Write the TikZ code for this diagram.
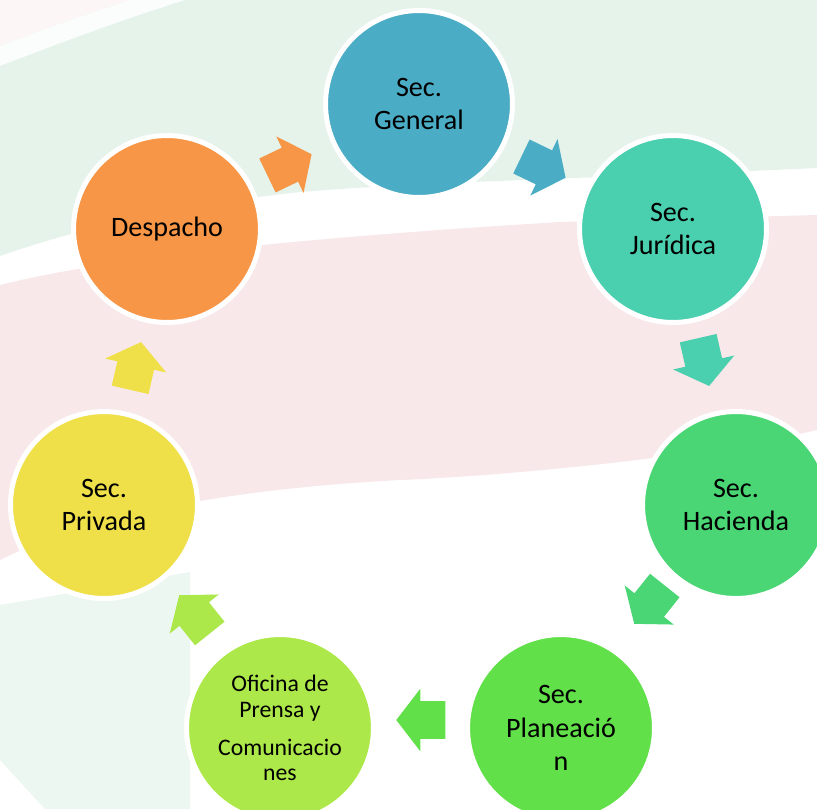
\documentclass[tikz,border=0pt]{standalone}
\usepackage{fontspec}
\setmainfont{Carlito}
\usetikzlibrary{shapes.arrows}
\definecolor{cgen}{HTML}{4BACC6}
\definecolor{cjur}{HTML}{4ACFAF}
\definecolor{chac}{HTML}{4AD674}
\definecolor{cpla}{HTML}{62E04A}
\definecolor{cofi}{HTML}{ADE84A}
\definecolor{cpri}{HTML}{EFE04A}
\definecolor{cdes}{HTML}{F79646}
\definecolor{bggreen}{HTML}{E5F3EB}
\definecolor{bgpink}{HTML}{F9E8E9}
\tikzset{
  unitnode/.style={circle,draw=white,line width=1mm,minimum size=3.74cm,inner sep=0pt,
    align=center,text=black,font=\fontsize{16}{19}\selectfont},
  smallunit/.style={unitnode,font=\fontsize{13.5}{14.7}\selectfont},
  cyclearr/.style={single arrow,minimum height=9.8mm,inner xsep=0pt,inner ysep=3.7mm,outer sep=0pt,
    single arrow head extend=2.5mm,single arrow tip angle=105},
}
\begin{document}
\begin{tikzpicture}[x=0.02cm,y=-0.02cm]
  \useasboundingbox (0,0) rectangle (817,809);
  \clip (0,0) rectangle (817,809);
  % ---- faded background bands ----
  \fill[white] (0,0) rectangle (817,809);
  \fill[bggreen] (0,0) -- (817,0) -- (817,168) .. controls (600,178) and (420,182) .. (300,192)
    .. controls (180,205) and (80,228) .. (0,256) -- cycle;
  \fill[white!60!bgpink] (0,0) -- (130,0) .. controls (85,15) and (40,30) .. (0,46) -- cycle;
  \fill[white!80!bggreen] (130,0) -- (185,0) .. controls (115,22) and (55,45) .. (0,66) -- (0,46)
    .. controls (40,30) and (85,15) .. (130,0) -- cycle;
  \fill[bgpink] (0,285) .. controls (120,255) and (330,236) .. (560,222) -- (817,215) -- (817,430)
    .. controls (700,458) and (500,476) .. (400,480) .. controls (250,488) and (100,510) .. (0,560) -- cycle;
  \fill[bggreen!70!white] (0,605) -- (190,572) -- (190,809) -- (45,809) -- (0,760) -- cycle;
  % ---- the seven offices round the cycle ----
  \node[unitnode,fill=cgen] (secgen) at (419,104) {Sec.\\General};
  \node[unitnode,fill=cjur] (secjur) at (673,229) {Sec.\\Jurídica};
  \node[unitnode,fill=chac] (sechac) at (736,505) {Sec.\\Hacienda};
  \node[unitnode,fill=cpla] (secpla) at (561,728) {Sec.\\Planeació\\n};
  \node[smallunit,fill=cofi] (ofipre) at (280,728) {Oficina de\\Prensa y\\[2.4mm]Comunicacio\\nes};
  \node[unitnode,fill=cpri] (secpri) at (104,505) {Sec.\\Privada};
  \node[unitnode,fill=cdes] (despa) at (167,229) {Despacho};
  % ---- block arrows, each in the colour of the office it leaves ----
  \node[cyclearr,fill=cgen,rotate=-25.7] (a1) at (537,164) {};
  \node[cyclearr,fill=cjur,rotate=-77.1] (a2) at (702,355) {};
  \node[cyclearr,fill=chac,rotate=-128.6] (a3) at (654,599) {};
  \node[cyclearr,fill=cpla,rotate=180] (a4) at (428,720) {};
  \node[cyclearr,fill=cofi,rotate=128.6] (a5) at (199,620) {};
  \node[cyclearr,fill=cpri,rotate=77.1] (a6) at (134,373) {};
  \node[cyclearr,fill=cdes,rotate=25.7] (a7) at (283,168) {};
\end{tikzpicture}
\end{document}
